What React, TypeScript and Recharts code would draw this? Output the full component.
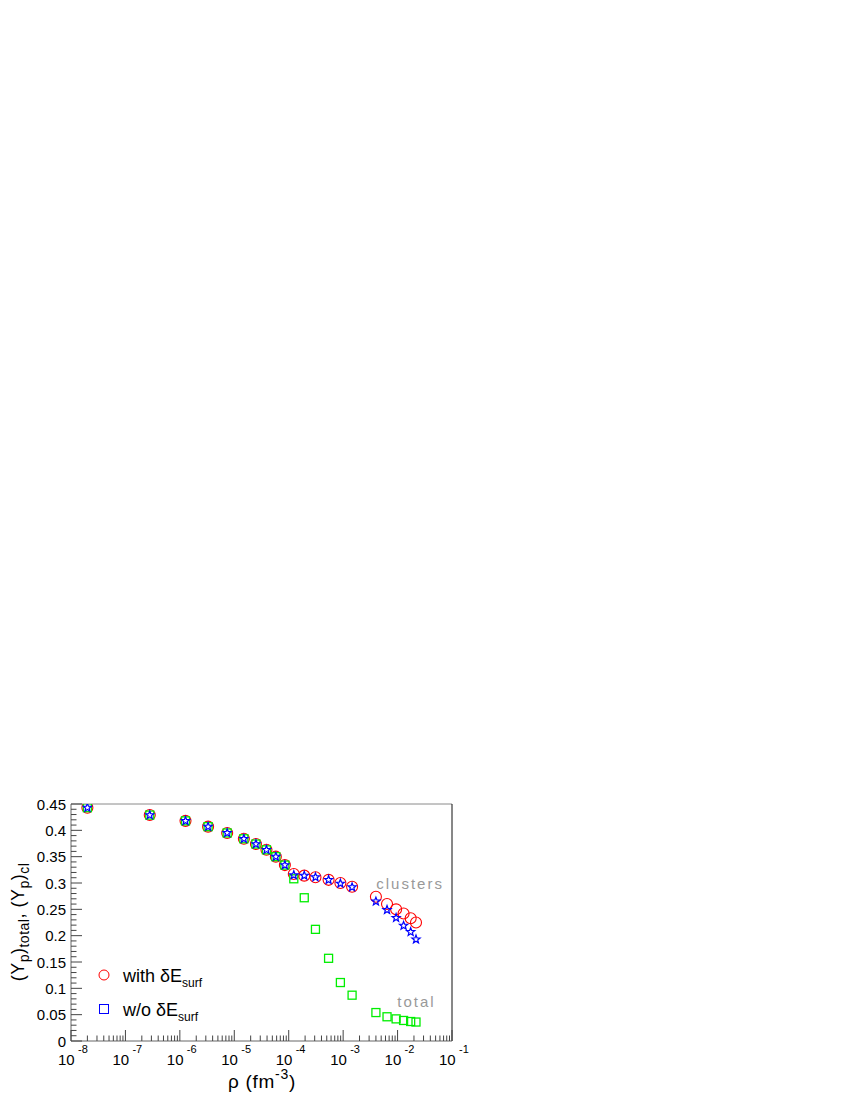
import { Legend, ReferenceLine, Scatter, ScatterChart, XAxis, YAxis } from "recharts";

// densities (fm^-3)
const density = [
  2.0e-8, 2.8e-7, 1.27e-6, 3.3e-6, 7.4e-6, 1.5e-5, 2.5e-5, 3.9e-5, 5.8e-5, 8.5e-5,
  1.24e-4, 1.93e-4, 3.1e-4, 5.4e-4, 8.9e-4, 1.46e-3, 4.0e-3, 6.4e-3, 9.4e-3, 1.29e-2,
  1.74e-2, 2.18e-2,
];
const ypWithSurf = [
  0.443, 0.429, 0.418, 0.407, 0.395, 0.384, 0.374, 0.363, 0.35, 0.334, 0.317, 0.314,
  0.311, 0.306, 0.3, 0.293, 0.274, 0.26, 0.25, 0.242, 0.233, 0.225,
];
const ypWithoutSurf = [
  0.443, 0.429, 0.418, 0.407, 0.395, 0.384, 0.374, 0.363, 0.35, 0.334, 0.315, 0.314,
  0.311, 0.306, 0.299, 0.292, 0.265, 0.249, 0.234, 0.219, 0.207, 0.193,
];
const ypTotal = [
  0.443, 0.429, 0.418, 0.407, 0.395, 0.384, 0.374, 0.363, 0.35, 0.334, 0.308, 0.272,
  0.212, 0.157, 0.111, 0.087, 0.054, 0.046, 0.042, 0.039, 0.037, 0.036,
];
const annotations = [
  { x: 1.7e-2, y: 0.289, text: "clusters" },
  { x: 2.23e-2, y: 0.0646, text: "total" },
];

const toPoints = (ys: number[]) => density.map((x, i) => ({ x, y: ys[i] }));
const withData = toPoints(ypWithSurf);
const withoutData = toPoints(ypWithoutSurf);
const totalData = toPoints(ypTotal);

const xTicks: number[] = [];
for (let d = -8; d <= -2; d++) {
  for (let m = 1; m <= 9; m++) xTicks.push(Number((m * Math.pow(10, d)).toPrecision(3)));
}
xTicks.push(0.1);
const yTicks: number[] = [];
for (let i = 0; i <= 45; i++) yTicks.push(i / 100);

const FONT = "'Liberation Sans', Arial, Helvetica, sans-serif";
const TICK = "#444";

const XTick = (props: any) => {
  const { x, y, payload } = props;
  const v = payload.value;
  const exp = Math.round(Math.log10(v));
  const major = Math.abs(v - Math.pow(10, exp)) / v < 1e-6;
  return (
    <g>
      <line x1={x} x2={x} y1={y} y2={y - (major ? 11 : 5.5)} stroke={TICK} />
      {major && (
        <g fontFamily={FONT} fill="#000">
          <text x={x - 13} y={y + 24} fontSize={15}>10</text>
          <text x={x + 7} y={y + 12} fontSize={11}>{exp}</text>
        </g>
      )}
    </g>
  );
};

const YTick = (props: any) => {
  const { x, y, payload } = props;
  const v = payload.value;
  const major = Math.round(v * 100) % 5 === 0;
  return (
    <g>
      <line x1={x} x2={x + (major ? 11 : 5.5)} y1={y} y2={y} stroke={TICK} />
      {major && (
        <text x={x - 5} y={y + 5.5} textAnchor="end" fontSize={15} fontFamily={FONT} fill="#000">
          {Number(v.toFixed(2)).toString()}
        </text>
      )}
    </g>
  );
};

const Circle = (p: any) => <circle cx={p.cx} cy={p.cy} r={5.5} fill="none" stroke="#ff0000" strokeWidth={1.1} />;
const Square = (p: any) => (
  <rect x={p.cx - 4} y={p.cy - 4} width={8} height={8} fill="none" stroke="#00ee00" strokeWidth={1.3} />
);
const Star = (p: any) => {
  const pts: string[] = [];
  for (let i = 0; i < 10; i++) {
    const r = i % 2 === 0 ? 4.3 : 1.8;
    const a = -Math.PI / 2 + (i * Math.PI) / 5;
    pts.push(`${p.cx + r * Math.cos(a)},${p.cy + r * Math.sin(a)}`);
  }
  return <polygon points={pts.join(" ")} fill="none" stroke="#0000ff" strokeWidth={1.2} />;
};
const Note = (p: any) => (
  <text x={p.cx} y={p.cy} textAnchor="middle" fontSize={15} letterSpacing={2} fill="#999" fontFamily={FONT}>
    {p.payload.text}
  </text>
);

const LegendBox = () => (
  <svg width={200} height={75} style={{ fontFamily: FONT }}>
    <circle cx={8} cy={17} r={5} fill="none" stroke="#ff0000" />
    <text x={27} y={24} fontSize={18}>
      with δE<tspan dy={5} fontSize={12}>surf</tspan>
    </text>
    <rect x={3.5} y={46.5} width={9} height={9} fill="none" stroke="#0000ff" />
    <text x={27} y={58} fontSize={18}>
      w/o δE<tspan dy={5} fontSize={12}>surf</tspan>
    </text>
  </svg>
);

const YLabel = () => (
  <text transform="translate(16 914) rotate(-90)" textAnchor="middle" fontSize={18} letterSpacing={0.5} fontFamily={FONT}>
    (Y<tspan dy={5} fontSize={14}>p</tspan>
    <tspan dy={-5}>)</tspan>
    <tspan dy={5} fontSize={14}>total</tspan>
    <tspan dy={-5}>, (Y</tspan>
    <tspan dy={5} fontSize={14}>p</tspan>
    <tspan dy={-5}>)</tspan>
    <tspan dy={5} fontSize={14}>cl</tspan>
  </text>
);

const XLabel = () => (
  <text x={254} y={1080} textAnchor="middle" fontSize={19} letterSpacing={0.7} fontFamily={FONT}>
    ρ (fm<tspan dy={-9} fontSize={14}>-3</tspan>
    <tspan dy={9}>)</tspan>
  </text>
);

export default function App() {
  return (
    <ScatterChart width={480} height={1090} margin={{ top: 796, right: 36, bottom: 0, left: 0 }}>
      <XAxis
        type="number"
        dataKey="x"
        scale="log"
        domain={[1e-8, 1e-1]}
        allowDataOverflow
        ticks={xTicks}
        interval={0}
        tick={<XTick />}
        tickLine={false}
        tickSize={0}
        tickMargin={0}
        height={57}
        axisLine={{ stroke: "#666" }}
        label={{ content: () => <XLabel /> }}
      />
      <YAxis
        type="number"
        dataKey="y"
        domain={[0, 0.45]}
        allowDataOverflow
        ticks={yTicks}
        interval={0}
        tick={<YTick />}
        tickLine={false}
        tickSize={0}
        tickMargin={0}
        width={63}
        axisLine={{ stroke: "#666" }}
        label={{ content: () => <YLabel /> }}
      />
      <ReferenceLine y={0.45} stroke="#8a8a8a" />
      <ReferenceLine x={0.1} stroke="#111" />
      <Scatter name="with" data={withData} shape={<Circle />} isAnimationActive={false} />
      <Scatter name="total" data={totalData} shape={<Square />} isAnimationActive={false} />
      <Scatter name="without" data={withoutData} shape={<Star />} isAnimationActive={false} />
      <Scatter data={annotations} shape={<Note />} legendType="none" isAnimationActive={false} />
      <Legend
        verticalAlign="middle"
        align="center"
        content={() => <LegendBox />}
        wrapperStyle={{ position: "absolute", left: 88, top: 950, width: 200, height: 75 }}
      />
    </ScatterChart>
  );
}
